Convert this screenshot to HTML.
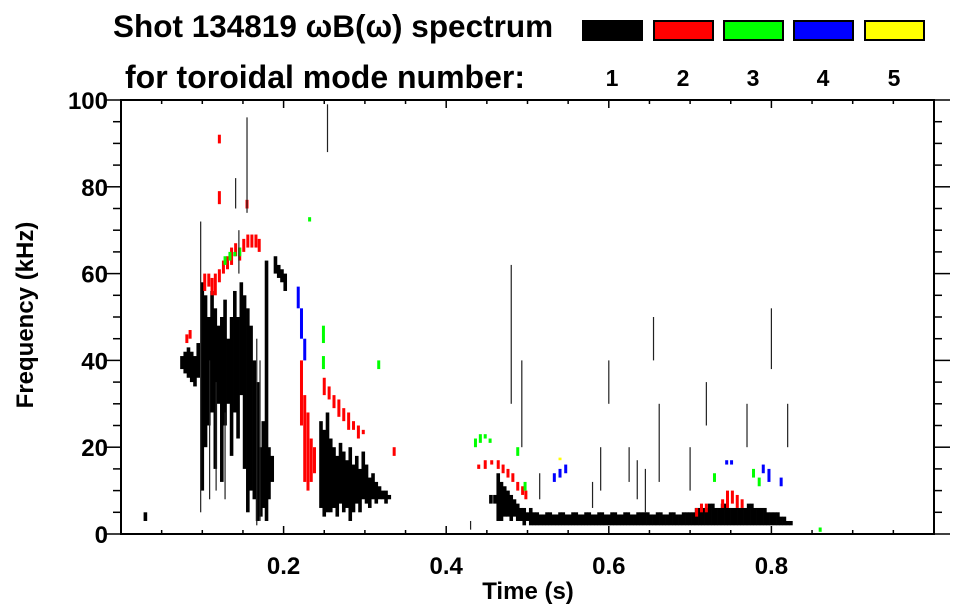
<!DOCTYPE html>
<html><head><meta charset="utf-8"><style>
body{margin:0;background:#fff;}
svg{display:block;font-family:"Liberation Sans",sans-serif;font-weight:bold;}
</style></head><body>
<svg id="chart" width="963" height="615" viewBox="0 0 963 615" xmlns="http://www.w3.org/2000/svg">
<text x="113" y="37" font-size="31.5">Shot 134819 ωB(ω) spectrum</text>
<text x="125" y="88" font-size="32">for toroidal mode number:</text>
<g id="legend"></g>
<g id="marks"></g>
<g id="axes"></g>
<text x="528" y="599" font-size="24" text-anchor="middle">Time (s)</text>
<text transform="translate(33,315) rotate(-90)" font-size="24" text-anchor="middle">Frequency (kHz)</text>
</svg>
<script>
const modeNumbers = ["1","2","3","4","5"];
const modeColors = ["#000000","#ff0000","#00ff00","#0000ff","#ffff00"];
const xTickLabels = ["0.2","0.4","0.6","0.8"];
const xTickValues = [0.2,0.4,0.6,0.8];
const yTickLabels = ["0","20","40","60","80","100"];
const yTickValues = [0,20,40,60,80,100];
// segments: [time s, fLow kHz, fHigh kHz]
const mode1 = [[0.03,3,5],[0.075,38,41],[0.079,37,42],[0.083,36,43],[0.087,35,42],[0.091,34,41],[0.095,36,44],
[0.100,10,58],[0.104,20,55],[0.108,25,50],[0.112,28,56],[0.116,15,52],[0.120,30,48],[0.124,12,50],[0.128,25,54],[0.132,30,45],[0.136,18,50],[0.140,28,56],[0.144,22,50],[0.148,32,58],
[0.152,15,55],[0.156,5,52],[0.160,10,48],[0.164,8,40],[0.168,3,35],[0.172,4,20],[0.175,6,26],[0.179,3,63],[0.182,8,20],[0.186,12,18],
[0.190,60,64],[0.194,59,62],[0.198,58,61],[0.202,56,60],
[0.246,6,26],[0.250,4,24],[0.254,5,28],[0.258,5,22],[0.262,6,20],[0.266,4,18],[0.270,7,21],[0.274,5,19],[0.278,6,17],[0.282,3,20],[0.286,5,16],[0.290,7,18],[0.294,5,15],[0.298,8,19],[0.302,7,16],[0.306,6,13],[0.310,8,14],[0.314,7,12],[0.318,8,11],[0.322,8,10],[0.326,7,10],[0.330,8,9],
[0.455,7,9],[0.460,7,9],[0.464,3,14],[0.468,3,12],[0.472,4,11],[0.476,4,10],[0.480,3,9],[0.484,4,8],[0.488,3,7],[0.492,3,6],[0.496,2,6],[0.500,3,5],[0.504,2,6],[0.508,2,5],
[0.512,2,5],[0.516,2,4.5],[0.520,2,4.5],[0.524,2,5],[0.528,2,5],[0.532,2,4.5],[0.536,2,4.5],[0.540,2,5],[0.544,2,5],[0.548,2,4.5],[0.552,2,4.5],[0.556,2,5],[0.560,2,5],[0.564,2,4.5],[0.568,2,4.5],[0.572,2,5],[0.576,2,5],[0.580,2,4.5],[0.584,2,4.5],[0.588,2,5],[0.592,2,5],[0.596,2,4.5],[0.600,2,4.5],[0.604,2,5],[0.608,2,5],[0.612,2,4.5],[0.616,2,4.5],[0.620,2,5],[0.624,2,5],[0.628,2,4.5],[0.632,2,4.5],[0.636,2,5],[0.640,2,5],[0.644,2,5],[0.648,2,5],[0.652,2,4.5],[0.656,2,4.5],[0.660,2,5],[0.664,2,5],[0.668,2,4.5],[0.672,2,4.5],[0.676,2,5],[0.680,2,5],[0.684,2,4.5],[0.688,2,4.5],[0.692,2,5],[0.696,2,5],[0.700,2,5],[0.704,2,5],[0.708,2,6],[0.712,2,6],[0.716,2,6],[0.720,2,6],[0.724,2,7],[0.728,2,7],[0.732,2,6],[0.736,2,6],[0.740,2,7],[0.744,2,7],[0.748,2,6],[0.752,2,6],[0.756,2,6],[0.760,2,6],[0.764,2,6],[0.768,2,6],[0.772,2,7],[0.776,2,7],[0.780,2,6],[0.784,2,6],[0.788,2,6],[0.792,2,6],[0.796,2,5],[0.800,2,5],[0.804,2,5],[0.808,2,5],[0.812,2,4],[0.816,2,4],[0.820,2,3],[0.824,2,3]];
const mode1Streaks = [[0.098,5,72],[0.48,30,62],[0.635,8,17],[0.645,5,15],[0.655,40,50],[0.662,12,30],[0.720,25,35],[0.800,38,52],[0.820,20,30],[0.155,74,96],[0.141,75,82],[0.254,88,99],[0.60,30,40],[0.59,10,20],[0.43,1,3],[0.70,10,20],[0.77,20,30],[0.145,60,70],[0.109,8,40],[0.117,10,35],[0.128,8,28],[0.167,2,45],[0.171,3,40],[0.493,20,40],[0.515,8,14],[0.58,6,12],[0.625,12,20]];
const mode2 = [[0.081,44,46],[0.085,45,47],[0.103,56,60],[0.108,57,60],[0.112,55,59],[0.116,55,60],[0.121,58,61],[0.126,60,63],[0.131,61,64],[0.136,62,66],[0.141,64,67],[0.146,63,66],[0.151,65,68],[0.156,66,69],[0.161,66,69],[0.166,66,69],[0.170,65,68],[0.121,90,92],[0.121,76,79],[0.155,75,77],
[0.222,25,40],[0.226,12,32],[0.230,10,28],[0.234,12,22],[0.238,14,20],
[0.250,32,36],[0.256,31,34],[0.262,29,32],[0.268,27,31],[0.274,26,29],[0.280,24,28],[0.286,24,26],[0.292,22,25],[0.298,23,24],[0.336,18,20],
[0.440,15,16],[0.448,15,17],[0.456,16,17],[0.464,15,17],[0.470,14,16],[0.476,13,15],[0.482,12,14],[0.488,10,12],[0.494,9,11],[0.498,8,10],
[0.708,4,6],[0.714,5,7],[0.720,5,7],[0.740,6,8],[0.746,6,10],[0.752,7,10],[0.758,6,9],[0.764,6,8]];
const mode3 = [[0.128,62,64],[0.134,63,65],[0.140,64,65],[0.146,64,66],[0.232,72,73],[0.249,44,48],[0.249,38,41],[0.317,38,40],[0.436,20,22],[0.442,21,23],[0.448,22,23],[0.454,21,22],[0.488,18,20],[0.497,10,12],[0.730,12,14],[0.778,13,15],[0.785,11,13],[0.860,0.5,1.5]];
const mode4 = [[0.218,52,57],[0.222,45,52],[0.226,40,45],[0.533,12,14],[0.540,13,15],[0.547,14,16],[0.745,16,17],[0.751,16,17],[0.790,14,16],[0.797,12,15],[0.812,11,13]];
const mode5 = [[0.540,17,17.6]];
const series = [mode1,mode2,mode3,mode4,mode5];

const NS="http://www.w3.org/2000/svg";
const X0=121,X1=934,Y0=534,Y1=100;
const xs=t=>X0+t*(X1-X0);
const ys=f=>Y0-f/100*(Y0-Y1);
function mk(tag,attrs,parent){const e=document.createElementNS(NS,tag);for(const k in attrs)e.setAttribute(k,attrs[k]);parent.appendChild(e);return e;}

const marks=document.getElementById('marks');
function drawSegs(segs,color,w,name){
  segs.forEach(s=>{
    const y0=ys(s[2]),y1=ys(s[1]);
    const r=mk('rect',{x:xs(s[0])-w/2,y:y0,width:w,height:Math.max(1.5,y1-y0),fill:color},marks);
    
    
  });
}
series.forEach((segs,si)=>drawSegs(segs,modeColors[si],si===0?3.6:3,'mode-'+modeNumbers[si]+'-segment'));
drawSegs(mode1Streaks,'#222',1.2,'mode-1-streak');

const leg=document.getElementById('legend');
const legX=[582,653,723,793,864];
modeNumbers.forEach((m,i)=>{
  const r=mk('rect',{x:legX[i]+1,y:21,width:59,height:19,fill:modeColors[i],stroke:'#000','stroke-width':2},leg);
  
  
  const t=mk('text',{x:legX[i]+30,y:86,'font-size':23,'text-anchor':'middle'},leg);
  t.textContent=m;
  
  
});

const ax=document.getElementById('axes');
const frame=mk('rect',{x:X0,y:Y1,width:X1-X0,height:Y0-Y1,fill:'none',stroke:'#000','stroke-width':2},ax);


for(let i=1;i<20;i++){
  const t=i*0.05, major=(i%4===0), len=major?8:4, x=xs(t);
  mk('line',{x1:x,x2:x,y1:Y0,y2:Y0-len,stroke:'#000','stroke-width':1.5},ax);
  mk('line',{x1:x,x2:x,y1:Y1,y2:Y1+len,stroke:'#000','stroke-width':1.5},ax);
}
for(let i=0;i<=20;i++){
  const f=i*5, major=(i%4===0), len=major?16:8, y=ys(f);
  mk('line',{x1:X0,x2:X0-len,y1:y,y2:y,stroke:'#000','stroke-width':1.5},ax);
  mk('line',{x1:X1,x2:X1+len,y1:y,y2:y,stroke:'#000','stroke-width':1.5},ax);
}
xTickValues.forEach((v,i)=>{
  const t=mk('text',{x:xs(v),y:574,'font-size':24,'text-anchor':'middle'},ax);
  t.textContent=xTickLabels[i];
  
  
});
yTickValues.forEach((v,i)=>{
  const t=mk('text',{x:108,y:ys(v)+9,'font-size':24,'text-anchor':'end'},ax);
  t.textContent=yTickLabels[i];
  
  
});
</script>
</body></html>
